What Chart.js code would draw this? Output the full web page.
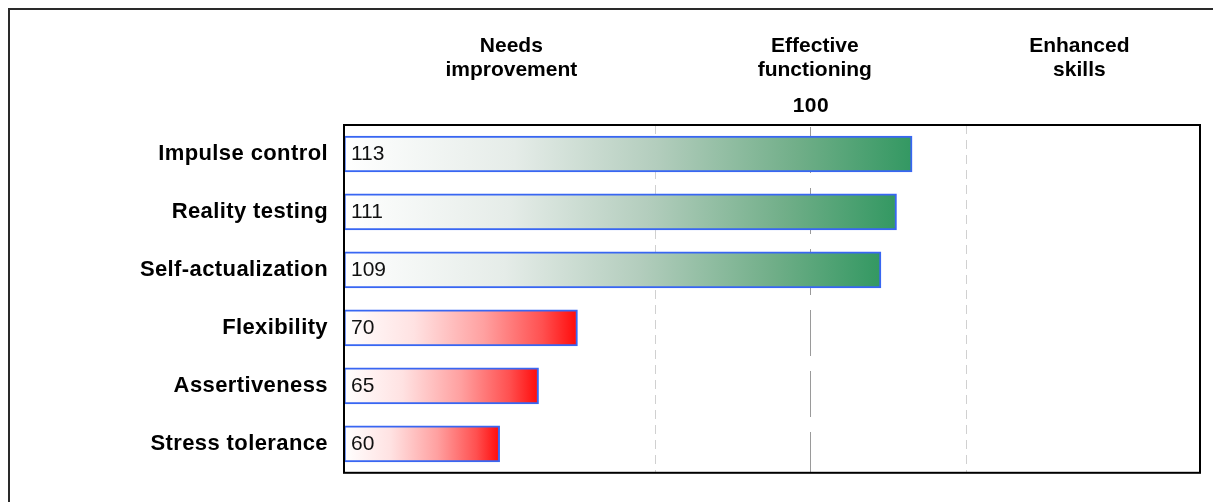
<!DOCTYPE html>
<html>
<head>
<meta charset="utf-8">
<script src="https://cdn.jsdelivr.net/npm/chart.js@4.4.1/dist/chart.umd.min.js"></script>
<style>
  html, body { margin: 0; padding: 0; background: #fff; overflow: hidden; }
  #wrap { position: relative; width: 1213px; height: 502px; }
</style>
</head>
<body>
<div id="wrap"><canvas id="scores"></canvas></div>
<script>
// Subscale scores, top to bottom.
const SCALES = ['Impulse control', 'Reality testing', 'Self-actualization', 'Flexibility', 'Assertiveness', 'Stress tolerance'];
const SCORES = [113, 111, 109, 70, 65, 60];

// Score axis: range, reference lines, and the one reference line that carries a label.
const AXIS_MIN = 40;
const AXIS_MAX = 150;
const REF_LINES = [80, 100, 120];
const REF_LABELS = ['', '100', ''];

// Band headings over the plot, each anchored at a score value.
const BANDS = [['Needs', 'improvement'], ['Effective', 'functioning'], ['Enhanced', 'skills']];
const BAND_AT = [61.5, 100.5, 134.5];

const LOW_CUTOFF = 90;   // below this a bar is drawn in the red ramp
const FONT = "'Liberation Sans', Arial, Helvetica, sans-serif";

const GREEN_STOPS = [[0, '#ffffff'], [0.3, '#e5ece8'], [0.55, '#b3cdbd'], [0.8, '#70ae88'], [1, '#339862']];
const RED_STOPS = [[0, '#ffffff'], [0.3, '#ffe2e2'], [0.6, '#ffa0a0'], [0.85, '#ff5050'], [1, '#ff0a0a']];

// Each bar fades from white at the axis start to its full colour at the bar end.
function barFill(c) {
  const chart = c.chart;
  const x = chart.scales.x;
  if (!chart.chartArea || !x) return '#dddddd';
  const v = SCORES[c.dataIndex];
  const g = chart.ctx.createLinearGradient(x.getPixelForValue(AXIS_MIN), 0, x.getPixelForValue(v), 0);
  (v < LOW_CUTOFF ? RED_STOPS : GREEN_STOPS).forEach(([o, col]) => g.addColorStop(o, col));
  return g;
}

const decor = {
  id: 'decor',
  beforeDraw(chart) {
    const { ctx } = chart;
    // outer frame, open to the right and bottom
    ctx.save();
    ctx.strokeStyle = '#2a2a2a';
    ctx.lineWidth = 2;
    ctx.beginPath();
    ctx.moveTo(9, chart.height + 5);
    ctx.lineTo(9, 9);
    ctx.lineTo(chart.width + 5, 9);
    ctx.stroke();
    ctx.restore();
    ctx.letterSpacing = '0.4px';   // axis labels are set slightly loose
  },
  beforeDatasetsDraw(chart) {
    chart.ctx.letterSpacing = '0px';
  },
  afterDatasetsDraw(chart) {
    const { ctx, chartArea: a } = chart;
    const meta = chart.getDatasetMeta(0);
    ctx.save();
    // score printed at the start of each bar
    ctx.font = `21px ${FONT}`;
    ctx.fillStyle = '#111';
    ctx.textAlign = 'left';
    ctx.textBaseline = 'middle';
    meta.data.forEach((bar, i) => ctx.fillText(String(SCORES[i]), bar.base + 7, bar.y));
    // plot box
    ctx.strokeStyle = '#000';
    ctx.lineWidth = 2;
    ctx.strokeRect(a.left, a.top, a.right - a.left, a.bottom - a.top);
    ctx.restore();
  },
  afterDraw(chart) {
    const { ctx } = chart;
    const x = chart.scales.x;
    ctx.save();
    ctx.font = `bold 21px ${FONT}`;
    ctx.fillStyle = '#000';
    ctx.textAlign = 'center';
    ctx.textBaseline = 'alphabetic';
    BANDS.forEach((lines, i) => {
      const px = x.getPixelForValue(BAND_AT[i]);
      lines.forEach((t, j) => ctx.fillText(t, px, 52 + j * 24));
    });
    ctx.restore();
  },
};

new Chart(document.getElementById('scores'), {
  type: 'bar',
  data: {
    labels: SCALES,
    datasets: [{
      data: SCORES,
      base: AXIS_MIN,
      backgroundColor: barFill,
      borderColor: '#3866f2',
      borderWidth: 2,
      borderSkipped: false,
      barThickness: 36,
    }],
  },
  options: {
    responsive: true,
    maintainAspectRatio: false,
    animation: false,
    indexAxis: 'y',
    layout: { padding: { left: 0, top: 0, right: 13, bottom: 21 } },
    plugins: { legend: { display: false }, tooltip: { enabled: false } },
    scales: {
      x: {
        type: 'linear',
        position: 'top',
        min: AXIS_MIN,
        max: AXIS_MAX,
        afterBuildTicks: (s) => { s.ticks = REF_LINES.map((v) => ({ value: v })); },
        afterFit: (s) => { s.height = 125; },
        ticks: {
          autoSkip: false,
          maxRotation: 0,
          padding: 6,
          color: '#000',
          font: { family: FONT, size: 21, weight: 'bold' },
          callback: (v, i) => REF_LABELS[i] ?? '',
        },
        grid: {
          drawTicks: false,
          lineWidth: 1,
          color: (c) => (c.tick && c.tick.value === 100 ? '#9a9a9a' : '#d0d0d0'),
        },
        border: {
          display: false,
          dash: (c) => (c.tick && c.tick.value === 100 ? [46, 15] : [9, 6]),
          dashOffset: (c) => (c.tick && c.tick.value === 100 ? -2 : 0),
        },
      },
      y: {
        afterFit: (s) => { s.width = 344; },
        grid: { display: false, drawTicks: false },
        border: { display: false },
        ticks: { padding: 16, color: '#000', font: { family: FONT, size: 22, weight: 'bold' } },
      },
    },
  },
  plugins: [decor],
});
</script>
</body>
</html>
